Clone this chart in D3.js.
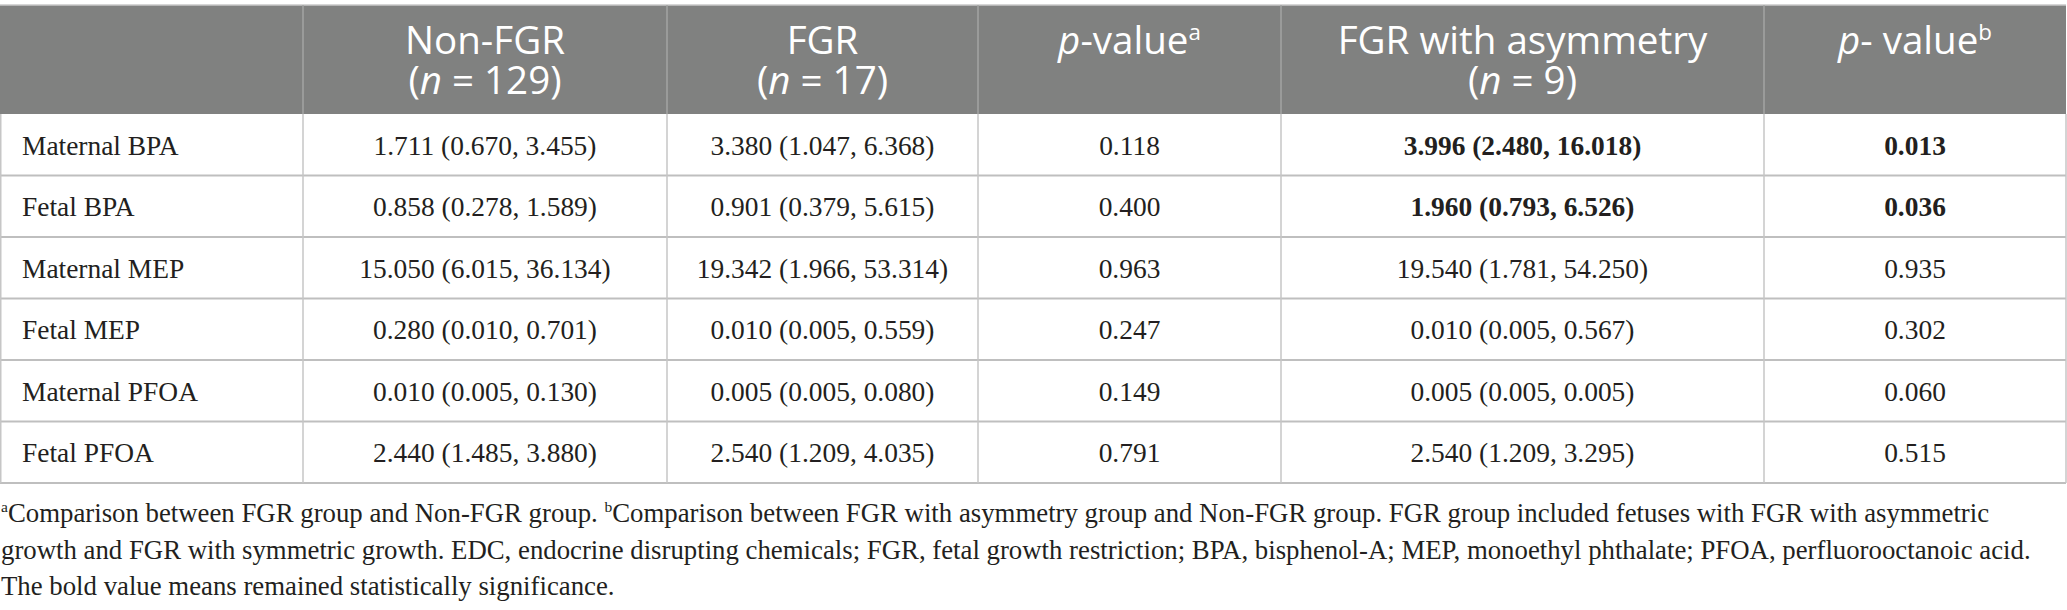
<!DOCTYPE html>
<html>
<head>
<meta charset="utf-8">
<script src="https://cdn.jsdelivr.net/npm/d3@7"></script>
<style>
  html, body { margin: 0; padding: 0; background: #fff; }
  svg { display: block; }
</style>
</head>
<body>
<svg id="chart"></svg>
<script>
// table content
const rowLabels = ["Maternal BPA", "Fetal BPA", "Maternal MEP", "Fetal MEP", "Maternal PFOA", "Fetal PFOA"];
const nonFGR = ["1.711 (0.670, 3.455)", "0.858 (0.278, 1.589)", "15.050 (6.015, 36.134)", "0.280 (0.010, 0.701)", "0.010 (0.005, 0.130)", "2.440 (1.485, 3.880)"];
const fgr = ["3.380 (1.047, 6.368)", "0.901 (0.379, 5.615)", "19.342 (1.966, 53.314)", "0.010 (0.005, 0.559)", "0.005 (0.005, 0.080)", "2.540 (1.209, 4.035)"];
const pValueA = ["0.118", "0.400", "0.963", "0.247", "0.149", "0.791"];
const fgrAsym = ["3.996 (2.480, 16.018)", "1.960 (0.793, 6.526)", "19.540 (1.781, 54.250)", "0.010 (0.005, 0.567)", "0.005 (0.005, 0.005)", "2.540 (1.209, 3.295)"];
const pValueB = ["0.013", "0.036", "0.935", "0.302", "0.060", "0.515"];
const significant = [true, true, false, false, false, false];

// header parts: [text, style] pieces per line
const headers = [
  [],
  [[["Non-FGR", ""]], [["(", ""], ["n", "i"], [" = 129)", ""]]],
  [[["FGR", ""]], [["(", ""], ["n", "i"], [" = 17)", ""]]],
  [[["p", "i"], ["-value", ""], ["a", "sup"]]],
  [[["FGR with asymmetry", ""]], [["(", ""], ["n", "i"], [" = 9)", ""]]],
  [[["p", "i"], ["- value", ""], ["b", "sup"]]]
];

const footnote = [
  [["a", "sup"], ["Comparison between FGR group and Non-FGR group. ", ""], ["b", "sup"],
   ["Comparison between FGR with asymmetry group and Non-FGR group. FGR group included fetuses with FGR with asymmetric", ""]],
  [["growth and FGR with symmetric growth. EDC, endocrine disrupting chemicals; FGR, fetal growth restriction; BPA, bisphenol-A; MEP, monoethyl phthalate; PFOA, perfluorooctanoic acid.", ""]],
  [["The bold value means remained statistically significance.", ""]]
];

// layout
const W = 2067, H = 610;
const colWidths = [303, 364, 311, 303, 483, 302];
const headTop = 5, headBottom = 114, tableBottom = 483;
const serif = "'Liberation Serif', 'Times New Roman', serif";
const sans = "'Open Sans', 'Noto Sans', sans-serif";
const ink = "#231f20";

const edges = [0, ...d3.cumsum(colWidths)];
const colIndex = d3.range(colWidths.length);
const xLeft = d3.scaleOrdinal().domain(colIndex).range(edges.slice(0, -1));
const xMid = d3.scaleOrdinal().domain(colIndex).range(colIndex.map(i => (edges[i] + edges[i + 1]) / 2));
const y = d3.scaleBand().domain(rowLabels).range([headBottom, tableBottom]);

const svg = d3.select("#chart").attr("width", W).attr("height", H);

// fit a font size so that a sample string has the wanted width
function fitSize(family, weight, sample, targetWidth) {
  const t = svg.append("text").attr("font-family", family).attr("font-weight", weight)
    .attr("font-size", 40).text(sample);
  const w = t.node().getComputedTextLength();
  t.remove();
  return 40 * targetWidth / w;
}
const headSize = fitSize(sans, 400, "Non-FGR", 160);
const bodySize = fitSize(serif, 400, "1.711 (0.670, 3.455)", 223);
const noteSize = fitSize(serif, 400, footnote[1][0][0], 2031);

function addPieces(text, pieces, size) {
  pieces.forEach(([s, kind]) => {
    const ts = text.append("tspan").text(s);
    if (kind === "i") ts.attr("font-style", "italic");
    if (kind === "sup") ts.attr("font-size", size * 0.58).attr("dy", -size * 0.36);
    else if (kind === "" && ts.node().previousSibling && ts.node().previousSibling.getAttribute("dy"))
      ts.attr("dy", size * 0.36);
  });
}

// header background
svg.append("rect").attr("x", edges[0]).attr("y", headTop)
  .attr("width", edges[edges.length - 1] - edges[0]).attr("height", headBottom - headTop)
  .attr("fill", "#808180");
svg.append("line").attr("x1", 0).attr("x2", edges[edges.length - 1])
  .attr("y1", headTop).attr("y2", headTop).attr("stroke", "#c9c9c9").attr("stroke-width", 1.5);

// header separators
svg.append("g").selectAll("line").data(edges.slice(1, -1)).join("line")
  .attr("x1", d => d).attr("x2", d => d).attr("y1", headTop).attr("y2", headBottom)
  .attr("stroke", "#a3a4a3").attr("stroke-width", 1.5);

// header text
headers.forEach((lines, c) => {
  lines.forEach((pieces, li) => {
    const t = svg.append("text")
      .attr("x", xMid(c)).attr("y", 54 + li * 40)
      .attr("text-anchor", "middle")
      .attr("font-family", sans).attr("font-size", headSize)
      .attr("fill", "#ffffff");
    addPieces(t, pieces, headSize);
  });
});

// body grid
const grid = svg.append("g");
grid.selectAll("line.h").data(rowLabels.slice(1).map(r => y(r)).concat([tableBottom]))
  .join("line").attr("class", "h")
  .attr("x1", 0).attr("x2", edges[edges.length - 1])
  .attr("y1", d => d).attr("y2", d => d)
  .attr("stroke", "#bfbfbf").attr("stroke-width", 2);
grid.selectAll("line.v").data(edges)
  .join("line").attr("class", "v")
  .attr("x1", d => Math.max(d, 0.75)).attr("x2", d => Math.max(d, 0.75))
  .attr("y1", headBottom).attr("y2", tableBottom)
  .attr("stroke", "#c6c6c6").attr("stroke-width", 1.5);

// body cells
const columns = [rowLabels, nonFGR, fgr, pValueA, fgrAsym, pValueB];
columns.forEach((values, c) => {
  svg.append("g").selectAll("text").data(values).join("text")
    .attr("x", c === 0 ? xLeft(c) + 22 : xMid(c))
    .attr("y", (d, i) => y(rowLabels[i]) + y.bandwidth() / 2 + bodySize * 0.37)
    .attr("text-anchor", c === 0 ? "start" : "middle")
    .attr("font-family", serif).attr("font-size", bodySize)
    .attr("font-weight", (d, i) => (c >= 4 && significant[i]) ? 700 : 400)
    .attr("fill", ink)
    .text(d => d);
});

// footnote
footnote.forEach((pieces, li) => {
  const t = svg.append("text")
    .attr("x", 1).attr("y", 522 + li * 36.5)
    .attr("font-family", serif).attr("font-size", noteSize)
    .attr("fill", ink);
  addPieces(t, pieces, noteSize);
});
</script>
</body>
</html>
